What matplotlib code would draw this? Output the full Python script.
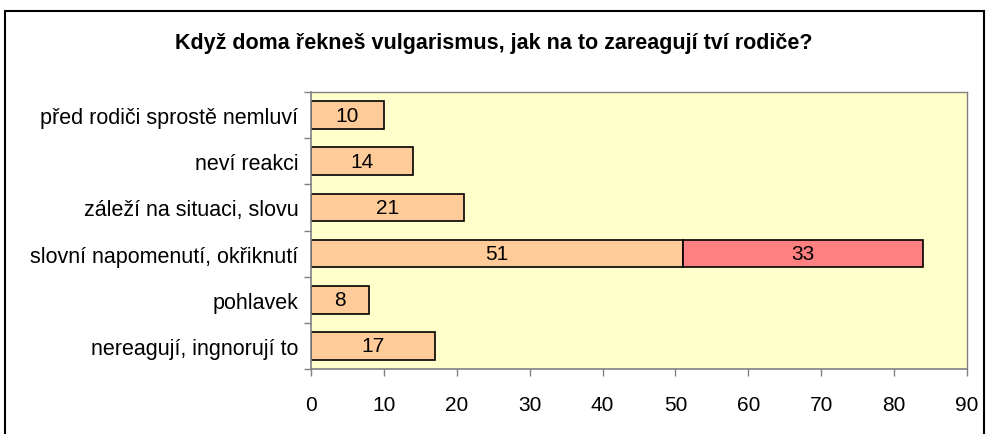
import numpy as np
import matplotlib.pyplot as plt
from matplotlib.patches import Rectangle

plt.rcParams['font.family'] = ['Liberation Sans', 'DejaVu Sans']

# Chart data (top to bottom as shown)
categories = ['před rodiči sprostě nemluví', 'neví reakci', 'záleží na situaci, slovu',
              'slovní napomenutí, okřiknutí', 'pohlavek', 'nereagují, ingnorují to']
values_main = [10, 14, 21, 51, 8, 17]
values_extra = [0, 0, 0, 33, 0, 0]
x_ticks = [0, 10, 20, 30, 40, 50, 60, 70, 80, 90]
title = 'Když doma řekneš vulgarismus, jak na to zareagují tví rodiče?'

fig = plt.figure(figsize=(9.87, 4.35), dpi=100)
fig.patch.set_facecolor('white')

# Outer chart border
fig.patches.append(Rectangle((5 / 987, -0.01), 979 / 987, 1 - 12 / 435 + 0.01,
                             transform=fig.transFigure, fill=False,
                             edgecolor='black', linewidth=1.5))

ax = fig.add_axes([311 / 987, 1 - 370 / 435, 656 / 987, 277 / 435])
ax.set_facecolor('#FFFFCC')

y = np.arange(len(categories))
ax.barh(y, values_main, height=0.6, color='#FFCC99', edgecolor='black', linewidth=1.2)
extra = np.array(values_extra)
mask = extra > 0
ax.barh(y[mask], extra[mask], left=np.array(values_main)[mask], height=0.6,
        color='#FF8080', edgecolor='black', linewidth=1.2)

for yi, v, e in zip(y, values_main, values_extra):
    ax.text(v / 2, yi, str(v), ha='center', va='center', fontsize=15)
    if e:
        ax.text(v + e / 2, yi, str(e), ha='center', va='center', fontsize=15)

ax.set_xlim(0, 90)
ax.set_ylim(len(categories) - 0.5, -0.5)
ax.set_xticks(x_ticks)
ax.set_xticklabels([str(t) for t in x_ticks], fontsize=15)
ax.set_yticks(y)
ax.set_yticklabels(categories, fontsize=15.5)
ax.set_yticks(np.arange(len(categories) + 1) - 0.5, minor=True)
ax.tick_params(axis='y', which='major', length=0, pad=9)
ax.tick_params(axis='y', which='minor', length=5, color='#808080', width=1)
ax.tick_params(axis='x', length=5, color='#808080', width=1, pad=14)

for side in ['top', 'right']:
    ax.spines[side].set_color('#808080')
    ax.spines[side].set_linewidth(1)
for side in ['left', 'bottom']:
    ax.spines[side].set_color('#808080')
    ax.spines[side].set_linewidth(1.2)

fig.text(0.5, 1 - 44 / 435, title, ha='center', va='center',
         fontsize=15.5, fontweight='bold')

fig.savefig('out.png', dpi=100)
